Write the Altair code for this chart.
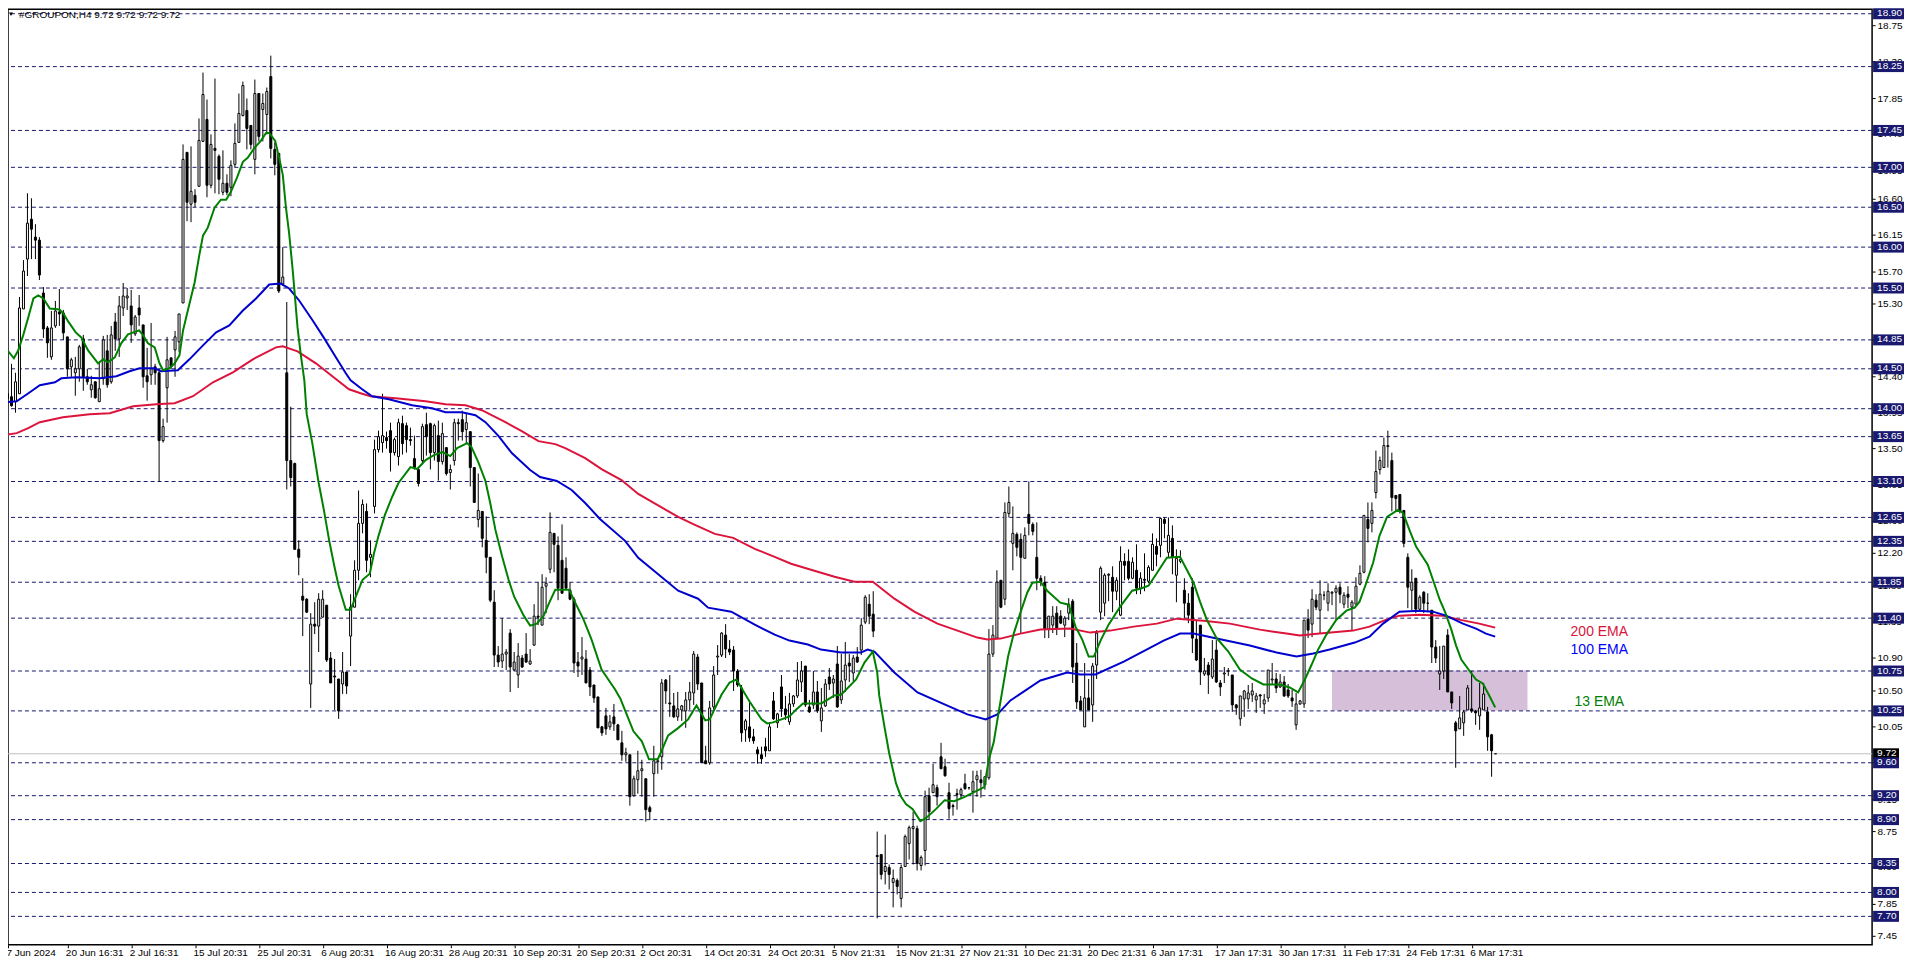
import json
import altair as alt
import pandas as pd

# candles: (open, high, low, close)
ohlc_jun_jul = [
(14.41,14.41,14.10,14.16),(14.18,14.30,14.02,14.12),(14.15,14.55,14.02,14.04),(14.08,14.45,13.95,14.33),
(14.19,15.38,14.18,15.25),(15.24,15.84,15.24,15.71),(15.85,16.67,15.65,16.30),(16.35,16.61,15.85,16.23),
(16.13,16.29,15.85,16.09),(16.09,16.13,15.60,15.66),(15.44,15.51,14.88,14.99),(15.00,15.03,14.63,14.81),
(14.64,15.21,14.61,15.00),(15.03,15.34,15.00,15.21),(15.20,15.49,15.03,15.18),(15.19,15.23,14.85,14.94),
(14.89,14.89,14.39,14.50),(14.52,14.63,14.39,14.61),(14.45,14.64,14.16,14.49),(14.50,14.79,14.33,14.77),
(14.87,14.92,14.22,14.40),(14.40,14.50,14.30,14.33),(14.23,14.41,14.14,14.30),(14.33,14.33,14.12,14.14),
(14.09,14.57,14.09,14.25),(14.37,14.90,14.30,14.85),(14.72,14.92,14.26,14.30),(14.33,15.03,14.31,14.92),
(15.08,15.19,14.72,14.86),(14.86,15.40,14.64,15.27),(15.25,15.56,15.15,15.40),(15.37,15.50,15.23,15.40),
(15.27,15.47,14.81,15.04),(14.93,15.16,14.90,15.14),(15.25,15.41,15.03,15.16),(15.04,15.04,14.26,14.40),
(14.41,14.75,14.10,14.33),(14.42,15.06,14.30,14.49),(14.52,14.55,14.30,14.45),(14.45,14.50,13.09,13.60),
(13.60,13.88,13.58,13.78),(14.26,14.89,13.83,14.61),(14.63,14.63,14.50,14.52),(14.73,14.97,14.39,14.89),
(14.83,15.18,14.70,15.18),(15.31,17.28,15.31,17.09),(17.18,17.18,16.33,16.56),(16.54,17.25,16.31,16.70),
(16.65,16.72,16.50,16.56),(16.76,17.60,16.76,17.33),(17.32,18.17,17.32,17.90),(17.59,17.84,16.62,16.77),
(16.77,17.40,16.74,17.28),(17.23,18.10,16.67,17.21),(17.13,17.15,16.66,16.85),(16.68,17.20,16.65,16.79),
(16.79,16.91,16.65,16.68),(16.75,17.08,16.64,17.02),(17.03,17.54,17.00,17.29),(17.30,17.91,17.30,17.66),
(17.64,18.06,17.62,18.01),(17.70,17.85,17.22,17.48),(17.51,17.52,17.22,17.28),(17.09,18.08,16.91,17.91),
(17.91,17.91,17.32,17.38),(17.71,17.91,17.32,17.79),(17.65,17.99,17.40,17.93),(18.12,18.38,17.10,17.23),
(17.22,17.30,16.90,17.03),(17.17,17.17,15.43,15.46),(15.55,16.00,15.52,15.63),(14.45,15.32,13.00,13.36),
(13.36,14.02,13.03,13.14),(13.32,13.33,12.25,12.25),(12.25,12.37,11.93,12.15),
]
ohlc_aug_sep = [
(11.67,11.89,11.18,11.62),(11.64,11.65,11.46,11.48),(10.58,11.46,10.29,11.32),(11.32,11.60,11.20,11.30),
(11.30,11.71,10.98,11.64),(11.41,11.75,11.41,11.64),(11.56,11.56,10.86,10.88),(10.90,10.98,10.60,10.60),
(10.68,10.89,10.26,10.67),(10.65,10.65,10.15,10.25),(10.58,10.98,10.46,10.73),(10.73,10.73,10.46,10.56),
(11.18,11.70,10.80,11.54),(11.54,12.12,11.54,12.00),(11.99,12.98,11.87,12.57),(12.57,12.87,12.45,12.81),
(12.72,12.82,11.97,12.12),(12.15,12.37,11.91,12.19),(12.78,13.62,12.70,13.49),(13.49,13.73,13.45,13.65),
(13.58,14.18,13.46,13.66),(13.64,13.71,13.50,13.60),(13.73,13.83,13.22,13.46),(13.45,13.64,13.42,13.62),
(13.41,13.88,13.29,13.82),(13.81,13.91,13.43,13.56),(13.79,13.83,13.45,13.62),(13.61,13.77,13.54,13.60),
(13.38,13.67,13.25,13.27),(13.25,13.27,13.03,13.07),(13.35,13.81,13.31,13.78),(13.80,13.95,13.42,13.65),
(13.81,13.83,13.24,13.46),(13.46,13.81,13.36,13.79),(13.67,13.85,13.11,13.34),(13.34,13.82,13.31,13.69),
(13.52,13.52,13.17,13.20),(13.21,13.31,13.00,13.25),(13.36,13.87,13.29,13.83),(13.82,13.87,13.60,13.81),
(13.86,13.97,13.60,13.72),(13.74,13.95,13.56,13.82),(13.71,13.71,13.03,13.27),(13.27,13.27,12.83,12.84),
(12.62,13.20,12.53,12.74),(12.72,12.72,12.28,12.39),(12.37,12.66,11.96,12.16),(12.16,12.16,11.60,11.62),
(11.60,11.75,10.79,10.94),(10.94,11.05,10.79,10.86),(10.87,11.40,10.78,10.95),(10.95,11.02,10.76,10.98),
(11.21,11.26,10.48,10.79),(10.76,10.98,10.74,10.86),(10.69,11.09,10.53,10.93),(10.91,10.94,10.78,10.79),
(10.95,11.22,10.84,10.85),(10.83,11.02,10.82,10.87),(11.07,11.57,11.05,11.42),(11.43,11.84,11.31,11.41),
(11.31,11.94,11.31,11.78),(11.80,11.91,11.46,11.83),(12.01,12.71,11.96,12.46),(12.45,12.45,11.97,12.32),
(12.30,12.42,11.62,11.77),(12.12,12.56,11.71,11.71),(12.02,12.16,11.77,11.77),(11.75,11.85,11.62,11.64),
(11.64,11.66,10.72,10.84),(10.85,10.98,10.67,10.80),(10.89,11.16,10.70,10.92),(10.89,11.00,10.60,10.60),
(10.76,10.79,10.43,10.54),(10.57,10.57,10.35,10.41),(10.42,10.42,10.04,10.04),(10.05,10.06,9.94,9.98),
(10.19,10.28,9.95,10.03),(10.05,10.20,10.02,10.11),(10.18,10.34,10.00,10.09),(10.08,10.09,9.89,9.89),
]
ohlc_oct_nov = [
(9.85,10.00,9.63,9.70),(9.70,9.79,9.62,9.73),(9.70,9.70,9.07,9.18),(9.20,9.44,9.19,9.41),(9.39,9.75,9.22,9.51),
(9.51,9.64,9.19,9.53),(9.41,9.41,8.88,9.02),(9.05,9.07,8.90,9.00),(9.47,9.81,9.19,9.63),(9.62,9.64,9.47,9.63),
(9.68,10.65,9.52,10.60),(10.63,10.65,10.34,10.50),(10.35,10.69,10.18,10.34),(10.31,10.47,10.16,10.18),
(10.17,10.48,10.12,10.27),(10.26,10.32,10.12,10.31),(10.25,10.49,10.04,10.39),(10.39,10.61,10.26,10.48),
(10.47,10.99,10.32,10.95),(10.92,10.95,10.51,10.58),(10.59,10.59,9.60,9.60),(9.63,9.82,9.59,9.59),
(9.61,10.37,9.58,10.28),(10.30,10.80,10.26,10.69),(10.92,11.07,10.70,10.93),(10.94,11.23,10.92,11.21),
(11.19,11.32,10.90,11.02),(11.02,11.13,10.94,10.98),(11.00,11.05,10.50,10.74),(10.74,10.77,10.55,10.57),
(10.53,10.57,9.87,9.98),(10.01,10.15,9.87,10.12),(10.05,10.39,9.86,9.91),(9.93,10.03,9.84,9.88),
(9.77,9.80,9.59,9.72),(9.71,9.80,9.59,9.65),(9.80,9.92,9.68,9.75),(9.76,10.09,9.75,10.05),(10.37,10.48,10.14,10.15),
(10.10,10.22,10.04,10.21),(10.54,10.69,10.18,10.27),(10.27,10.43,10.14,10.20),(10.11,10.47,10.07,10.34),
(10.33,10.45,10.30,10.43),(10.43,10.86,10.41,10.63),(10.61,10.87,10.49,10.74),(10.81,10.81,10.30,10.32),
(10.30,10.39,10.22,10.24),(10.32,10.74,10.27,10.48),(10.49,10.62,10.22,10.25),(10.12,10.53,9.99,10.28),
(10.31,10.65,10.30,10.58),(10.67,10.78,10.51,10.58),(10.60,10.69,10.41,10.64),(10.83,11.05,10.29,10.30),
(10.39,10.96,10.34,10.62),(10.63,11.10,10.49,10.82),(10.84,10.95,10.61,10.80),(10.72,10.94,10.62,10.90),
(10.92,11.04,10.84,10.86),(11.01,11.40,10.94,11.31),(11.35,11.69,11.33,11.66),(11.57,11.70,11.33,11.42),
(11.45,11.73,11.16,11.24),
]
ohlc_nov_dec = [
(8.45,8.75,7.68,8.44),(8.47,8.47,8.16,8.22),(8.26,8.71,8.10,8.32),(8.30,8.34,8.03,8.22),(8.12,8.28,7.81,8.17),
(8.15,8.17,7.97,8.07),(7.92,8.34,7.81,8.30),(8.32,8.72,8.32,8.69),(8.60,8.82,8.40,8.80),(8.79,9.00,8.34,8.81),
(8.79,8.83,8.27,8.36),(8.33,8.45,8.27,8.43),(8.52,9.26,8.33,9.19),(9.20,9.30,8.90,9.00),(9.24,9.59,9.23,9.33),
(9.30,9.33,9.07,9.18),(9.68,9.85,9.53,9.53),(9.55,9.65,9.43,9.44),(9.23,9.36,8.91,9.04),(9.07,9.10,8.95,9.06),
(9.22,9.28,9.02,9.21),(9.21,9.29,9.16,9.27),(9.35,9.47,9.27,9.28),(9.29,9.30,9.27,9.29),(9.25,9.51,8.99,9.37),
(9.40,9.51,9.19,9.45),(9.40,9.52,9.17,9.36),(9.33,9.43,9.27,9.43),(9.42,11.26,9.40,10.95),(10.95,11.31,10.92,11.19),
(11.15,12.00,11.14,11.85),(11.87,11.87,11.52,11.53),(11.64,12.83,11.56,12.71),(12.70,13.03,12.65,12.84),
(12.33,12.78,11.99,12.45),(12.44,12.46,12.17,12.28),(12.38,12.45,11.21,12.15),(12.14,12.53,12.14,12.43),
(12.69,13.09,12.43,12.57),(12.56,12.59,12.43,12.48),(12.15,12.59,11.75,11.90),(11.89,11.93,11.80,11.85),
(11.84,11.92,11.15,11.27),(11.26,11.43,11.15,11.42),(11.31,11.55,11.21,11.42),(11.46,11.55,11.19,11.28),
(11.43,11.50,11.32,11.34),(11.31,11.43,11.17,11.40),(11.46,11.65,11.38,11.57),(11.61,11.63,10.59,10.79),
(10.84,11.09,10.27,10.36),(10.37,10.43,10.26,10.26),(10.05,10.84,10.05,10.41),(10.41,10.65,10.26,10.26),
(10.32,10.84,10.11,10.81),(10.82,11.25,10.65,11.21),
]
ohlc_jan_feb = [
(11.47,12.04,11.38,12.02),(11.59,11.96,11.42,11.93),(11.93,11.96,11.61,11.94),(11.91,12.04,11.47,11.73),
(11.74,11.91,11.62,11.87),(11.44,12.29,11.42,12.10),(12.10,12.20,11.87,12.06),(12.11,12.25,11.87,11.90),
(11.89,12.15,11.88,12.09),(11.99,12.32,11.70,11.77),(11.77,11.97,11.70,11.90),(11.88,12.20,11.74,11.87),
(11.86,12.06,11.83,12.03),(11.99,12.45,11.99,12.32),(12.29,12.39,12.04,12.19),(12.30,12.65,12.15,12.64),
(12.62,12.65,12.39,12.58),(12.22,12.65,12.15,12.43),(12.39,12.55,11.95,12.15),(11.93,12.26,11.60,12.14),
(12.10,12.24,12.08,12.13),(11.75,11.89,11.40,11.58),(11.58,11.71,11.34,11.44),(11.78,11.89,10.97,11.15),
(11.14,11.38,10.87,10.88),(11.31,11.31,10.57,10.73),(10.71,10.90,10.68,10.74),(10.82,10.86,10.46,10.69),
(10.67,11.13,10.65,10.89),(11.00,11.13,10.59,10.61),(10.60,10.63,10.44,10.54),(10.71,10.79,10.59,10.72),
(10.74,10.78,10.68,10.75),(10.70,10.70,10.24,10.32),(10.32,10.33,10.20,10.28),(10.15,10.44,10.06,10.43),
(10.40,10.51,10.18,10.50),(10.40,10.57,10.27,10.47),(10.45,10.59,10.36,10.50),(10.38,10.47,10.22,10.43),
(10.45,10.46,10.28,10.43),(10.33,10.46,10.21,10.39),(10.41,10.76,10.36,10.76),(10.63,10.84,10.57,10.64),
(10.64,10.72,10.47,10.53),(10.55,10.71,10.53,10.61),(10.61,10.68,10.42,10.43),(10.51,10.58,10.41,10.43),
(10.41,10.51,10.30,10.37),(10.07,10.47,10.01,10.33),(10.34,10.39,10.32,10.37),
]
ohlc_feb_mar = [
(10.34,11.38,10.29,11.37),(11.39,11.51,11.15,11.25),(11.32,11.76,11.17,11.63),(11.62,11.70,11.50,11.54),
(11.50,11.87,11.21,11.70),(11.68,11.74,11.62,11.69),(11.58,11.83,11.49,11.73),(11.71,11.74,11.56,11.72),
(11.72,11.81,11.37,11.77),(11.78,11.83,11.58,11.70),(11.57,11.72,11.52,11.68),(11.70,11.79,11.52,11.66),
(11.53,11.62,11.25,11.60),(11.57,11.91,11.57,11.80),(11.82,12.05,11.81,11.96),(11.97,12.68,11.96,12.67),
(12.63,12.83,12.34,12.52),(12.57,12.83,12.46,12.74),(12.96,13.48,12.88,13.22),(13.24,13.40,13.18,13.36),
(13.27,13.64,13.27,13.54),(13.53,13.73,13.27,13.54),(13.35,13.46,12.72,12.90),(12.92,12.92,12.72,12.88),
(12.93,12.93,12.70,12.73),(12.74,12.74,12.28,12.33),(12.15,12.21,11.52,11.78),(11.75,12.01,11.50,11.84),
(11.89,11.89,11.46,11.51),(11.51,11.68,11.50,11.66),(11.72,11.73,11.46,11.59),(11.58,11.71,11.48,11.59),
(11.50,11.50,10.84,11.04),(11.04,11.13,10.84,10.90),(10.71,11.05,10.51,10.75),(10.74,11.05,10.65,11.05),
(11.19,11.27,10.49,10.49),(10.48,10.49,10.27,10.35),(10.10,10.12,9.54,10.00),(10.03,10.43,10.03,10.16),
(10.10,10.26,9.94,10.24),(10.26,10.57,10.26,10.53),(10.27,10.74,10.22,10.25),(10.25,10.26,10.07,10.23),
(10.19,10.59,10.01,10.29),(10.26,10.59,10.26,10.46),(10.24,10.30,9.76,9.93),(9.95,9.96,9.43,9.75),
(9.72,9.72,9.72,9.72),
]

# moving averages: (candle index, price)
ema13 = [
(0,14.87),(1,14.72),(2.6,14.62),(3.7,14.72),(5,14.92),(6.2,15.13),(7.5,15.36),(8.7,15.40),(10,15.36),(11.6,15.24),
(14,15.22),(15,15.17),(16.2,15.07),(18.1,14.94),(19.5,14.88),(21.2,14.72),(23.7,14.56),(25,14.60),(26.2,14.57),
(27.9,14.63),(29.5,14.80),(31.2,14.91),(34,14.96),(35,14.90),(36.2,14.80),(37.9,14.75),(39.1,14.55),(40,14.47),
(41.6,14.49),(42.9,14.55),(44.1,14.65),(45,14.96),(46.2,15.21),(47.9,15.56),(49.1,15.91),(50,16.14),(51.2,16.24),
(52.9,16.49),(54.5,16.59),(55.8,16.59),(57,16.68),(58.5,16.86),(60,17.05),(61.2,17.11),(62.9,17.23),(64.5,17.32),
(65.8,17.42),(66.6,17.42),(68.1,17.32),(69.1,17.11),(70,16.90),(70.8,16.49),(71.6,16.16),(72.5,15.71),(73.7,15.00),
(74.5,14.67),(75.4,14.35),(76,13.93),(77.4,13.56),(79,13.07),(80.3,12.74),(81.6,12.37),(82.9,12.04),(84,11.79),
(85.8,11.50),(87,11.50),(88.3,11.66),(90,11.87),(91.8,11.94),(92.9,12.20),(94,12.41),(95.6,12.67),(97.4,12.90),
(99,13.07),(102,13.27),(103.7,13.24),(105.8,13.36),(107.9,13.42),(110,13.46),(112,13.40),(113.7,13.50),(116.2,13.57),
(117.3,13.52),(119,13.33),(120.8,13.09),(122,12.82),(123.3,12.49),(125,12.16),(126.6,11.87),(128,11.66),(130.4,11.42),
(132,11.30),(133.7,11.33),(135.4,11.42),(136.8,11.58),(138.3,11.75),(141.8,11.75),(143.3,11.58),(145.4,11.38),
(147.4,11.13),(149.9,10.76),(153.3,10.51),(154.6,10.40),(156.2,10.20),(157.9,9.99),(160,9.87),(161.8,9.64),(164,9.64),
(165,9.75),(166.6,9.94),(169,10.03),(171.6,10.14),(173.7,10.31),(175.9,10.13),(177,10.14),(180,10.45),(182,10.60),
(183.7,10.63),(187,10.36),(190,10.14),(191.4,10.09),(192.9,10.10),(195,10.14),(197,10.17),(198.7,10.26),(200.4,10.34),
(205,10.34),(208.3,10.43),(210,10.45),(213.7,10.63),(215.8,10.84),(217.9,10.98),(219,10.72),(219.5,10.43),(220.8,10.05),
(222,9.72),(223.7,9.35),(224.9,9.18),(226.2,9.09),(227.9,9.02),(229.8,8.87),(231.2,8.91),(233.7,9.02),(235.9,9.14),
(238.3,9.12),(240.8,9.17),(243.3,9.23),(245.8,9.29),(247,9.64),(248.2,9.85),(249.1,10.13),(250.2,10.45),(251.8,10.92),
(253.3,11.21),(254.9,11.46),(256.6,11.71),(257.9,11.83),(259.9,11.85),(261.6,11.74),(264.9,11.58),(267,11.56),
(268.7,11.29),(270.4,11.13),(272,10.92),(273.3,10.92),(275.1,11.13),(277,11.31),(279.9,11.54),(282.9,11.73),
(284.9,11.76),(287,11.80),(289,11.95),(291.6,12.14),(294.9,12.15),(296.6,12.00),(298.3,11.83),(299.9,11.60),
(301.6,11.38),(304,11.15),(307,10.98),(309.9,10.76),(312.9,10.65),(315.8,10.57),(319.9,10.57),(322.4,10.53),
(324.5,10.47),(326.2,10.63),(327.9,10.82),(329.5,11.00),(331.6,11.19),(334.1,11.37),(336.6,11.49),(338.7,11.52),
(339.9,11.60),(341.6,11.83),(343.3,12.08),(344.9,12.41),(346.8,12.65),(349.5,12.74),(350.8,12.70),(352.4,12.49),
(354.1,12.28),(357,12.06),(358.3,11.87),(360,11.62),(361.4,11.46),(362.9,11.25),(364.1,11.05),(365.4,10.88),
(367.4,10.74),(369.1,10.63),(370.8,10.58),(372.4,10.43),(373.9,10.28),
]
ema100 = [
(0,14.07),(3.3,14.08),(6.6,14.20),(9.1,14.28),(12.9,14.32),(14.5,14.37),(18.3,14.38),(24.1,14.37),(28.3,14.40),
(31.6,14.46),(34.1,14.49),(37.9,14.50),(39.5,14.46),(43.7,14.47),(46.6,14.61),(50,14.78),(53.3,14.94),(56.6,15.03),
(60,15.21),(63.3,15.36),(66.6,15.53),(69.5,15.55),(71.6,15.48),(74.1,15.33),(77.5,15.09),(80.4,14.86),(83.3,14.63),
(85.8,14.43),(87,14.35),(89.9,14.24),(92.4,14.15),(96.6,14.11),(102.4,14.04),(107.4,14.00),(110.8,13.95),(114.9,13.95),
(118.3,13.91),(120.8,13.83),(124.1,13.65),(127.4,13.44),(132,13.23),(134.5,13.15),(138.7,13.09),(142.4,12.98),
(145.8,12.82),(149.5,12.63),(155.8,12.35),(159.1,12.14),(169.1,11.74),(174.1,11.63),(176.6,11.52),(182.4,11.48),
(188.3,11.31),(193.3,11.19),(197,11.11),(201.6,11.06),(204.9,11.01),(209.9,10.97),(214.9,10.97),(216.6,11.00),
(218.3,10.98),(223.3,10.72),(229.1,10.47),(235.3,10.33),(241.6,10.20),(246.2,10.14),(249.1,10.20),(252.4,10.37),
(259.9,10.62),(266.6,10.72),(269.9,10.70),(273.7,10.70),(280.8,10.86),(290.8,11.11),(294.9,11.20),(298.3,11.20),
(304.1,11.14),(312.4,11.05),(319.1,10.97),(324.1,10.92),(328.3,10.95),(332.4,11.01),(338.7,11.09),(342.4,11.17),
(345.8,11.33),(349.9,11.47),(354.9,11.49),(358.3,11.48),(361.6,11.42),(365.8,11.33),(369.1,11.26),(371.6,11.20),
(373.9,11.16),
]
ema200 = [
(0,13.66),(3.3,13.69),(6.2,13.75),(9.1,13.82),(14.9,13.89),(21.6,13.92),(26.6,13.94),(32.5,14.02),(38.3,14.05),
(42.9,14.06),(47.5,14.15),(52.5,14.32),(57.5,14.45),(62.5,14.60),(68.3,14.76),(70,14.77),(73.7,14.70),(78.3,14.55),
(83.7,14.35),(86.6,14.24),(89.5,14.19),(92,14.15),(98.3,14.12),(105.8,14.08),(110.8,14.05),(115.8,14.04),(119.9,13.97),
(125.8,13.83),(129.9,13.71),(134.1,13.59),(138.3,13.55),(140.8,13.50),(145.8,13.38),(149.9,13.25),(154.9,13.11),
(159.1,12.93),(169.1,12.65),(173.3,12.55),(178.3,12.44),(182.9,12.39),(188.3,12.26),(193.3,12.15),(197.4,12.07),
(202.4,11.99),(208.3,11.91),(213.3,11.85),(217.9,11.84),(223.3,11.64),(228.3,11.48),(234.1,11.33),(239.1,11.24),
(244.1,11.15),(246.6,11.13),(249.9,11.14),(254.9,11.20),(259.9,11.25),(267.4,11.26),(272.4,11.22),(277.4,11.24),
(283.3,11.29),(289.1,11.33),(294.1,11.39),(300.8,11.36),(307.4,11.32),(314.9,11.25),(321.6,11.20),(324.9,11.18),
(329.9,11.20),(338.3,11.24),(342.4,11.29),(346.6,11.37),(349.9,11.42),(354.9,11.44),(360.8,11.43),(364.9,11.37),
(369.9,11.33),(373.9,11.28),
]

level_wide = [18.90,18.25,17.45,17.00,16.50,16.00,15.50,14.85,14.50,14.00,13.65,13.10,12.65,12.35,11.85,11.40,10.75,10.25]
level_narrow = [9.60,9.20,8.90,8.35,8.00,7.70]
last_price = 9.72
price_ticks = [18.75,18.30,17.85,17.40,16.95,16.60,16.15,15.70,15.30,14.85,14.40,13.95,13.50,13.05,12.60,12.20,11.80,
               11.35,10.90,10.50,10.05,9.60,9.15,8.75,8.30,7.85,7.45]
time_labels = ["7 Jun 2024","20 Jun 16:31","2 Jul 16:31","15 Jul 20:31","25 Jul 20:31","6 Aug 20:31","16 Aug 20:31",
               "28 Aug 20:31","10 Sep 20:31","20 Sep 20:31","2 Oct 20:31","14 Oct 20:31","24 Oct 20:31","5 Nov 21:31",
               "15 Nov 21:31","27 Nov 21:31","10 Dec 21:31","20 Dec 21:31","6 Jan 17:31","17 Jan 17:31","30 Jan 17:31",
               "11 Feb 17:31","24 Feb 17:31","6 Mar 17:31"]
time_ticks = [1.125] + [16 * i for i in range(1, len(time_labels))]
zone = {"k0": 333, "k1": 382, "p0": 10.25, "p1": 10.75}
header_text = "#GROUPON,H4  9.72 9.72 9.72 9.72"
ema_labels = [("200 EMA", 400, 11.23, "#DC143C"), ("100 EMA", 400, 11.00, "#0000FF"), ("13 EMA", 400, 10.35, "#008000")]

NAVY = "#191970"
FONT = "Liberation Sans"
W, H = 1869, 938
BOX_L, BOX_W, BOX_N, TXT_X = W + 1, W + 32, W + 27, W + 5

rows = ohlc_jun_jul + ohlc_aug_sep + ohlc_oct_nov + ohlc_nov_dec + ohlc_jan_feb + ohlc_feb_mar
candles = pd.DataFrame(rows, columns=["o", "h", "l", "c"])
candles["k"] = range(len(candles))
up = candles[candles.c >= candles.o]
down = candles[candles.c < candles.o]

xs = alt.Scale(domain=[1.125, 1.125 + W / 4], nice=False, zero=False, padding=0)
ys = alt.Scale(domain=[18.9 - (946 - 12) / 80.8, 18.9 + 4 / 80.8], nice=False, zero=False, padding=0, round=True)

expr = json.dumps(time_labels) + "[round(datum.value/16)]"
x_axis = alt.Axis(
    values=time_ticks, labelExpr=expr, labelAlign="left", labelBaseline="top", labelFont=FONT, labelFontSize=10,
    labelColor="black", tickColor="black", tickSize=3, labelPadding=0, labelOffset=-2, domain=False, grid=False,
    labelOverlap=False, labelBound=False, labelFlush=False)
y_axis = alt.Axis(
    orient="right", values=price_ticks, format=".2f", labelFont=FONT, labelFontSize=10, labelColor="black",
    tickColor="black", tickSize=3, labelPadding=2, domain=False, grid=False, labelOverlap=False, labelBound=False,
    labelFlush=False)

def X(f="k"):
    return alt.X(f"{f}:Q", scale=xs, axis=x_axis, title=None)
def Y(f):
    return alt.Y(f"{f}:Q", scale=ys, axis=y_axis, title=None)

zone_layer = alt.Chart(pd.DataFrame([zone])).mark_rect(color="#D6BFD8", clip=True).encode(
    x=X("k0"), x2="k1:Q", y=Y("p1"), y2="p0:Q")

levels_df = pd.DataFrame({"p": level_wide + level_narrow})
grid = alt.Chart(levels_df).mark_rule(color=NAVY, strokeWidth=1, strokeDash=[4, 3], yOffset=0.5).encode(y=Y("p"))
last_rule = alt.Chart(pd.DataFrame({"p": [last_price]})).mark_rule(
    color="#C0C0C0", strokeWidth=1, yOffset=0.5).encode(y=Y("p"))

wicks = alt.Chart(candles).mark_rule(color="black", strokeWidth=1, clip=True, yOffset=0.5, y2Offset=0.5).encode(
    x=X(), y=Y("h"), y2="l:Q")
bodies_up = alt.Chart(up).mark_bar(size=2, fill="white", stroke="black", strokeWidth=1, clip=True,
                                   yOffset=0.5, y2Offset=0.5).encode(x=X(), y=Y("o"), y2="c:Q")
bodies_down = alt.Chart(down).mark_bar(size=2, fill="black", stroke="black", strokeWidth=1, clip=True,
                                       yOffset=0.5, y2Offset=0.5).encode(x=X(), y=Y("o"), y2="c:Q")

def ema_line(points, color):
    df = pd.DataFrame(points, columns=["k", "p"])
    return alt.Chart(df).mark_line(color=color, strokeWidth=2, clip=True, interpolate="linear").encode(x=X(), y=Y("p"))

def label_boxes(values, x2, color):
    df = pd.DataFrame({"p": values, "t": [f"{v:.2f}" for v in values]})
    box = alt.Chart(df).mark_rule(color=color, strokeWidth=11, yOffset=0.5).encode(
        x=alt.value(BOX_L), x2=alt.value(x2), y=Y("p"))
    txt = alt.Chart(df).mark_text(font=FONT, fontSize=10, color="white", align="left", baseline="middle").encode(
        x=alt.value(TXT_X), y=Y("p"), text="t:N")
    return box + txt

ema_texts = alt.layer(*[
    alt.Chart(pd.DataFrame({"k": [k], "p": [p], "t": [t]})).mark_text(
        font=FONT, fontSize=14, color=col, align="center", baseline="middle").encode(x=X(), y=Y("p"), text="t:N")
    for t, k, p, col in ema_labels
])

header = alt.Chart(pd.DataFrame({"t": [header_text]})).mark_text(
    font=FONT, fontSize=10, color="black", align="left", baseline="middle").encode(
    x=alt.value(11), y=alt.value(6), text="t:N")
marker = alt.Chart(pd.DataFrame({"t": ["a"]})).mark_point(
    shape="triangle-down", filled=True, color="black", size=16, opacity=1).encode(x=alt.value(3), y=alt.value(5))

chart = alt.layer(
    zone_layer, last_rule, grid, wicks, bodies_up, bodies_down,
    ema_line(ema200, "#DC143C"), ema_line(ema100, "#0000CD"), ema_line(ema13, "#008000"),
    ema_texts, label_boxes([last_price], BOX_N, "black"),
    label_boxes(level_wide, BOX_W, NAVY), label_boxes(level_narrow, BOX_N, NAVY),
    header, marker,
).properties(width=W, height=H, autosize="none",
             padding={"left": 0, "top": 0, "right": 36, "bottom": 15},
             background="white").configure_view(stroke="black", strokeWidth=1.5)

chart.save("out.html", embed_options={"renderer": "svg", "actions": False})
